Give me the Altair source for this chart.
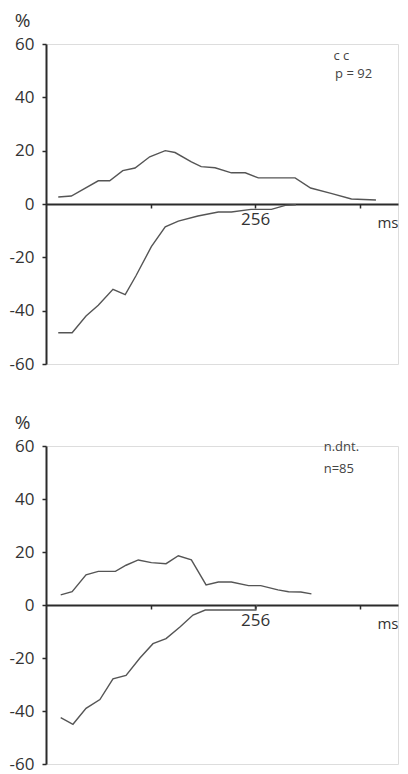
import altair as alt
import pandas as pd

# ---- data (x in ms, y in %) ----
top_pos_ms = [15, 31, 64, 78, 94, 109, 127, 146, 158, 178, 190, 207, 227, 244, 260, 305, 324, 349, 374, 404]
top_pos_pct = [2.6, 3, 8.7, 8.7, 12.5, 13.5, 17.7, 20, 19.3, 15.8, 14, 13.6, 11.7, 11.7, 9.8, 9.8, 6, 4, 1.9, 1.5]

top_neg_ms = [15, 32, 49, 64, 82, 97, 110, 129, 146, 162, 186, 211, 227, 251, 268, 276, 293, 306]
top_neg_pct = [-48.3, -48.3, -42, -38, -32, -34, -27, -16, -8.6, -6.4, -4.5, -3, -3, -2, -2, -2, -0.5, -0.3]

bot_pos_ms = [18, 32, 49, 64, 85, 98, 113, 129, 147, 162, 178, 196, 211, 227, 248, 263, 284, 297, 312, 325]
bot_pos_pct = [3.8, 5, 11.4, 12.7, 12.7, 15, 17, 16, 15.6, 18.6, 17, 7.6, 8.7, 8.7, 7.3, 7.3, 5.7, 5, 4.9, 4.2]

bot_neg_ms = [18, 33, 49, 66, 82, 98, 115, 131, 147, 164, 180, 195, 257, 258]
bot_neg_pct = [-42.5, -45, -39, -35.7, -27.9, -26.6, -20, -14.6, -12.7, -8.3, -3.8, -1.9, -1.9, 0]

top_notes = ["c c", "p = 92"]
top_notes_ms = [352, 354]
top_notes_pct = [55.5, 48.7]

bot_notes = ["n.dnt.", "n=85"]
bot_notes_ms = [340, 340]
bot_notes_pct = [59.7, 51.3]

y_ticks = [60, 40, 20, 0, -20, -40, -60]
x_ticks = [128, 256, 384]
x_labelled = 256
x_max = 431

FONT = "Open Sans"
AXIS_COLOR = "#2b2b2b"
LINE_COLOR = "#555555"
W = 352


def panel(pos_ms, pos_pct, neg_ms, neg_pct, notes, notes_ms, notes_pct, h):
    df = pd.concat([
        pd.DataFrame({"ms": pos_ms, "pct": pos_pct, "s": "pos"}),
        pd.DataFrame({"ms": neg_ms, "pct": neg_pct, "s": "neg"}),
    ])
    notes_df = pd.DataFrame({"ms": notes_ms, "pct": notes_pct, "t": notes})

    x_scale = alt.Scale(domain=[0, x_max], nice=False, zero=False)
    x_enc = alt.X(
        "ms:Q",
        scale=x_scale,
        axis=alt.Axis(
            values=x_ticks,
            labelExpr=f"datum.value == {x_labelled} ? '{x_labelled}' : ''",
            offset=-h / 2,
            grid=False,
            domainColor=AXIS_COLOR, domainWidth=2,
            tickColor=AXIS_COLOR, tickWidth=1.5, tickSize=4,
            labelFont=FONT, labelFontSize=17, labelColor="#333",
            labelPadding=3,
            title="ms", titleFont=FONT, titleFontSize=15, titleFontWeight="normal",
            titleColor="#333", titleAlign="right", titleAnchor="end",
            titleX=W, titleY=11, titleBaseline="top",
        ),
    )
    y_scale = alt.Scale(domain=[-60, 60], nice=False)
    y_enc = alt.Y(
        "pct:Q",
        scale=y_scale,
        axis=alt.Axis(
            values=y_ticks,
            labelExpr="datum.value < 0 ? '-' + abs(datum.value) : '' + datum.value",
            grid=False,
            domainColor=AXIS_COLOR, domainWidth=2,
            tickColor=AXIS_COLOR, tickWidth=1.5, tickSize=4,
            labelFont=FONT, labelFontSize=17, labelColor="#333",
            labelPadding=8,
            title="%", titleFont=FONT, titleFontSize=19, titleFontWeight="normal",
            titleColor="#333", titleAngle=0, titleAlign="center",
            titleBaseline="middle", titleX=-24, titleY=-24,
        ),
    )

    lines = alt.Chart(df).mark_line(color=LINE_COLOR, strokeWidth=1.4).encode(
        x=x_enc, y=y_enc, detail="s:N"
    )
    text = alt.Chart(notes_df).mark_text(
        align="left", baseline="middle", font=FONT, fontSize=13, color="#444"
    ).encode(
        x=alt.X("ms:Q", scale=x_scale),
        y=alt.Y("pct:Q", scale=y_scale),
        text="t:N",
    )
    return alt.layer(lines, text).properties(width=W, height=h)


top = panel(top_pos_ms, top_pos_pct, top_neg_ms, top_neg_pct,
            top_notes, top_notes_ms, top_notes_pct, 320)
bottom = panel(bot_pos_ms, bot_pos_pct, bot_neg_ms, bot_neg_pct,
               bot_notes, bot_notes_ms, bot_notes_pct, 318)

chart = alt.vconcat(top, bottom, spacing=39).properties(
    padding={"left": 0, "top": 2, "right": 0, "bottom": 0}
).configure_view(stroke=None).configure(background="white")

chart.save("out.html", embed_options={"renderer": "svg", "actions": False})
